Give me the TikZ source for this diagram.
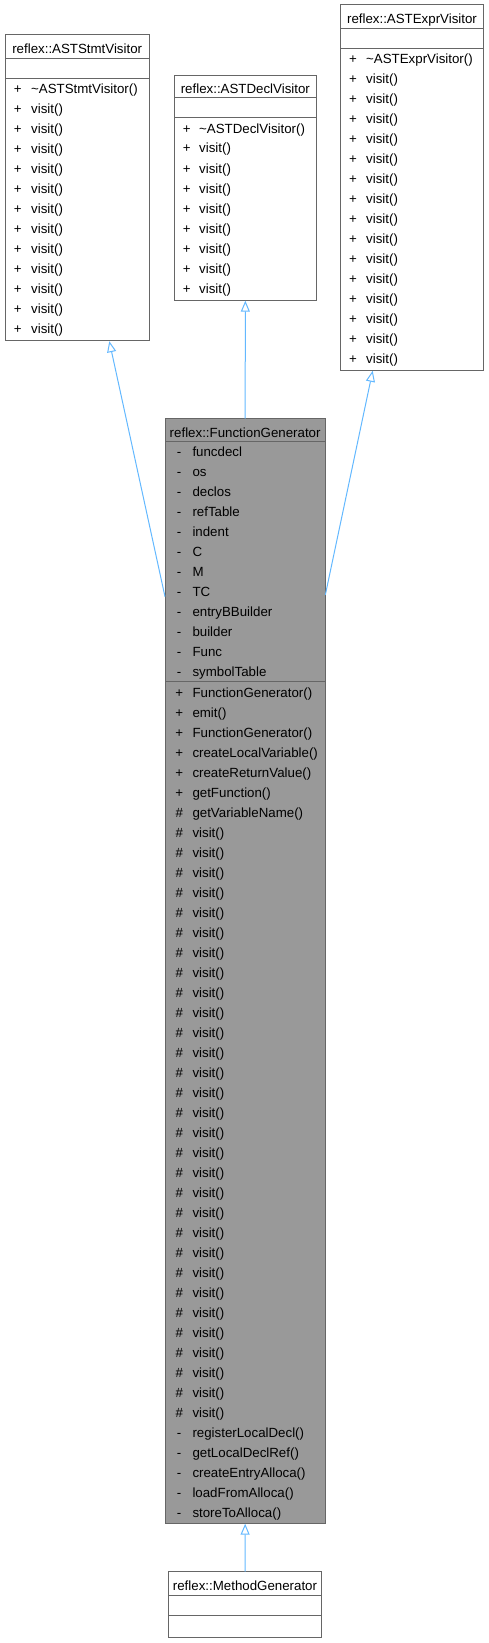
\documentclass[tikz,border=0pt]{standalone}
\usepackage{fontspec}
\setmainfont{Liberation Sans}
\usetikzlibrary{arrows.meta}
\definecolor{bordergray}{HTML}{666666}
\definecolor{fillgray}{HTML}{999999}
\definecolor{edgeblue}{HTML}{63B8FF}
\begin{document}
\begin{tikzpicture}[x=1pt,y=-1pt,
  font=\fontsize{13.3}{16}\selectfont,
  cls/.style={draw=bordergray, line width=1pt, anchor=north west, inner sep=0pt, outer sep=0pt, rectangle},
  sepline/.style={draw=bordergray, line width=1pt},
  titletext/.style={anchor=base, inner sep=0pt},
  symtext/.style={anchor=base, inner sep=0pt},
  memtext/.style={anchor=base west, inner sep=0pt},
  inh/.style={draw=edgeblue, line width=1pt, -{Triangle[open, length=11pt, width=9pt, fill=white]}}]
\useasboundingbox (0,0) rectangle (489,1643);

% ---------- reflex::ASTStmtVisitor ----------
\node[cls, fill=white, minimum width=144.3pt, minimum height=305.7pt] (stmt) at (5,35) {};
\draw[sepline] (5,58.3) -- (149.3,58.3);
\draw[sepline] (5,78.3) -- (149.3,78.3);
\node[titletext] (stmtT) at (77.2,53.3) {reflex::ASTStmtVisitor};
\node[symtext] (stmtS0) at (17.7,93.3) {+};
\node[memtext] (stmtM0) at (31,93.3) {\textasciitilde ASTStmtVisitor()};
\foreach \i in {1,...,12}{
  \node[symtext] (stmtS\i) at (17.7,93.3+20*\i) {+};
  \node[memtext] (stmtM\i) at (31,93.3+20*\i) {visit()};
}

% ---------- reflex::ASTDeclVisitor ----------
\node[cls, fill=white, minimum width=142.7pt, minimum height=225.4pt] (decl) at (174,75.3) {};
\draw[sepline] (174,98) -- (316.7,98);
\draw[sepline] (174,118) -- (316.7,118);
\node[titletext] (declT) at (245.35,93.6) {reflex::ASTDeclVisitor};
\node[symtext] (declS0) at (186.7,133) {+};
\node[memtext] (declM0) at (199,133) {\textasciitilde ASTDeclVisitor()};
\foreach \i in {1,...,8}{
  \node[symtext] (declS\i) at (186.7,133+20*\i) {+};
  \node[memtext] (declM\i) at (199,133+20*\i) {visit()};
}

% ---------- reflex::ASTExprVisitor ----------
\node[cls, fill=white, minimum width=142.6pt, minimum height=365.3pt] (expr) at (340.7,5) {};
\draw[sepline] (340.7,28.3) -- (483.3,28.3);
\draw[sepline] (340.7,48.3) -- (483.3,48.3);
\node[titletext] (exprT) at (412,23.3) {reflex::ASTExprVisitor};
\node[symtext] (exprS0) at (353,63.3) {+};
\node[memtext] (exprM0) at (366,63.3) {\textasciitilde ASTExprVisitor()};
\foreach \i in {1,...,15}{
  \node[symtext] (exprS\i) at (353,63.3+20*\i) {+};
  \node[memtext] (exprM\i) at (366,63.3+20*\i) {visit()};
}

% ---------- reflex::FunctionGenerator ----------
\node[cls, fill=fillgray, minimum width=160.3pt, minimum height=1105pt] (fg) at (165,418.7) {};
\draw[sepline] (165,441.7) -- (325.3,441.7);
\draw[sepline] (165,681) -- (325.3,681);
\node[titletext] (fgT) at (245.15,437) {reflex::FunctionGenerator};
\foreach \n [count=\i from 0] in {funcdecl,os,declos,refTable,indent,C,M,TC,entryBBuilder,builder,Func,symbolTable}{
  \node[symtext] (fgAS\i) at (179.2,456.7+20*\i) {-};
  \node[memtext] (fgA\i) at (192.3,456.7+20*\i) {\n};
}
\foreach \n [count=\i from 0] in {FunctionGenerator(),emit(),FunctionGenerator(),createLocalVariable(),createReturnValue(),getFunction()}{
  \node[symtext] (fgMS\i) at (179.2,697+20*\i) {+};
  \node[memtext] (fgM\i) at (192.3,697+20*\i) {\n};
}
\node[symtext] (fgMS6) at (179.2,817) {\#};
\node[memtext] (fgM6) at (192.3,817) {getVariableName()};
\foreach \i in {7,...,36}{
  \node[symtext] (fgMS\i) at (179.2,697+20*\i) {\#};
  \node[memtext] (fgM\i) at (192.3,697+20*\i) {visit()};
}
\foreach \n [count=\i from 37] in {registerLocalDecl(),getLocalDeclRef(),createEntryAlloca(),loadFromAlloca(),storeToAlloca()}{
  \node[symtext] (fgMS\i) at (179.2,697+20*\i) {-};
  \node[memtext] (fgM\i) at (192.3,697+20*\i) {\n};
}

% ---------- reflex::MethodGenerator ----------
\node[cls, fill=white, minimum width=153.4pt, minimum height=65.3pt] (mg) at (168.3,1571.7) {};
\draw[sepline] (168.3,1595) -- (321.7,1595);
\draw[sepline] (168.3,1615) -- (321.7,1615);
\node[titletext] (mgT) at (245,1590) {reflex::MethodGenerator};

% ---------- inheritance connectors ----------
\coordinate (fgLeft) at (165,596.7);
\coordinate (stmtTip) at (109.3,341.2);
\coordinate (fgRight) at (325.3,595);
\coordinate (exprTip) at (372.7,370.8);
\draw[inh] (fgLeft) -- (stmtTip);
\draw[inh] (fg.north) -- (decl.south);
\draw[inh] (fgRight) -- (exprTip);
\draw[inh] (mg.north) -- (fg.south);
\end{tikzpicture}
\end{document}
